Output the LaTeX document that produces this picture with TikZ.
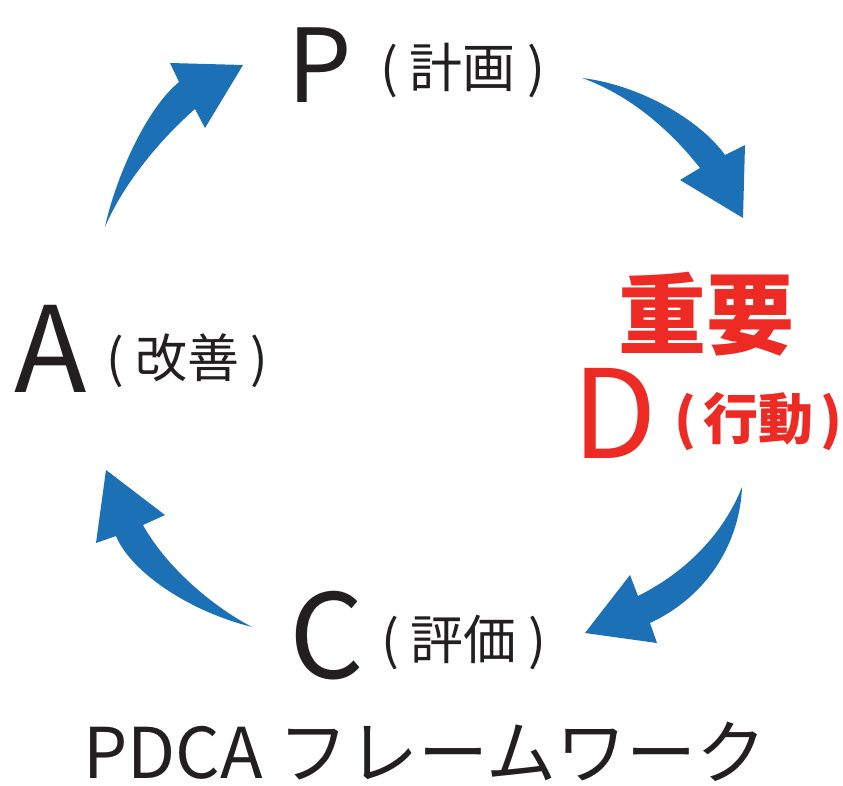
\documentclass[tikz,border=0pt]{standalone}
\usepackage{fontspec}
\setmainfont{Noto Sans CJK JP}
\definecolor{pdcablue}{RGB}{28,113,182}
\definecolor{pdcared}{RGB}{237,42,36}
\definecolor{pdcablack}{RGB}{35,31,32}
\newcommand{\fs}[1]{\fontsize{#1pt}{#1pt}\selectfont}
\tikzset{
  arrowshape/.style={fill=pdcablue, draw=none},
  lbl/.style={anchor=base west, inner sep=0pt, outer sep=0pt, text=pdcablack},
  redlbl/.style={lbl, text=pdcared},
}
\begin{document}
\begin{tikzpicture}[x=1pt,y=-1pt]
\useasboundingbox[fill=white] (0,0) rectangle (843,786);

% arrows
% A -> P
\fill[arrowshape] (105,227) .. controls (115,180) and (145,110) .. (179,82)
  -- (170,63) -- (243,65) -- (205,128) -- (195,109)
  .. controls (165,135) and (125,180) .. (105,227) -- cycle;
% P -> D
\fill[arrowshape] (582,78) .. controls (640,85) and (700,120) .. (725,155)
  -- (745,145) -- (743,218) -- (680,180) -- (700,168)
  .. controls (670,130) and (630,95) .. (582,78) -- cycle;
% D -> C
\fill[arrowshape] (742,487) .. controls (725,530) and (690,570) .. (638,596)
  -- (630,575) -- (585,633) -- (657,643) -- (650,623)
  .. controls (710,595) and (740,540) .. (742,487) -- cycle;
% C -> A
\fill[arrowshape] (252,627) .. controls (185,610) and (130,570) .. (116,536)
  -- (96,543) -- (106,470) -- (165,515) -- (143,525)
  .. controls (165,565) and (210,605) .. (252,627) -- cycle;

% labels
\node[lbl, font=\fs{102}] (P) at (287,103) {P};
\node[lbl, font=\fs{53}] (Pt) at (380,88) {( 計画 )};

\node[lbl, font=\fs{119}] (A) at (14,392) {A};
\node[lbl, font=\fs{52}] (At) at (106,377) {( 改善 )};

\node[lbl, font=\fs{117}] (C) at (289,678) {C};
\node[lbl, font=\fs{53}] (Ct) at (381,659) {( 評価 )};

\node[redlbl, font=\bfseries\fs{88}] (imp) at (618,347) {重要};
\node[redlbl, font=\fs{123}] (D) at (572,458) {D};
\node[redlbl, font=\bfseries\fs{55}] (Dt) at (674,439) {(\hspace{8pt}行動\hspace{7pt})};

\node[lbl, font=\fs{70}] (title) at (83,778) {PDCA フレームワーク};
\end{tikzpicture}
\end{document}
